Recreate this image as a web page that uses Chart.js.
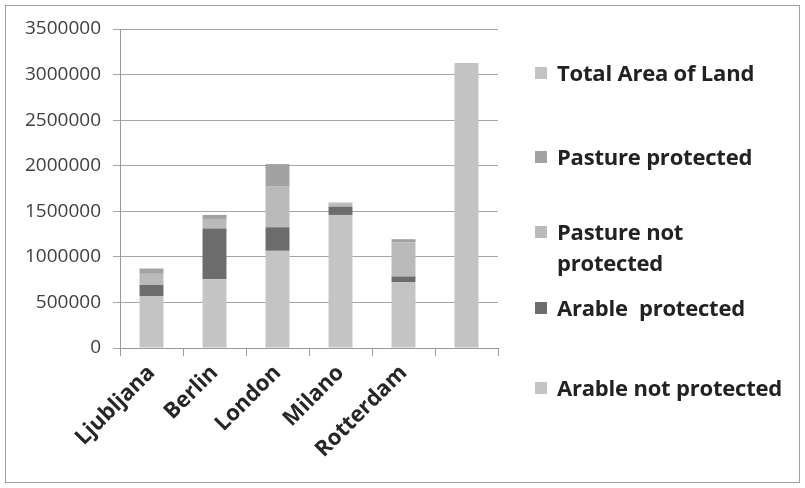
<!DOCTYPE html>
<html>
<head>
<meta charset="utf-8">
<script src="https://cdn.jsdelivr.net/npm/chart.js@4.4.0/dist/chart.umd.min.js"></script>
<style>
  html, body { margin: 0; padding: 0; background: #fff; }
  #wrap { position: relative; width: 805px; height: 488px; }
  #frame { position: absolute; left: 5px; top: 5px; width: 793px; height: 476px; border: 1px solid #a0a0a0; }
  canvas { position: absolute; left: 0; top: 0; }
  .leg { position: absolute; left: 535px; font: bold 22px "Open Sans", sans-serif; color: #222; line-height: 31px; letter-spacing: -0.2px; }
  .leg i { position: absolute; left: 0; top: 10px; width: 12px; height: 12px; }
  .leg span { display: block; margin-left: 22px; width: 260px; }
</style>
</head>
<body>
<div id="wrap">
  <div id="frame"></div>
  <canvas id="landChart" width="805" height="488"></canvas>
</div>
<script>
// values
const categories = ['Ljubljana', 'Berlin', 'London', 'Milano', 'Rotterdam', ''];
const arableNotProtected = [566000, 755000, 1066000, 1460000, 723000, null];
const arableProtected = [127000, 555000, 259000, 91000, 62000, null];
const pastureNotProtected = [121000, 106000, 445000, 33000, 376000, null];
const pastureProtected = [58000, 44000, 248000, 11000, 33000, null];
const totalArea = [null, null, null, null, null, 3128000];

const seriesColors = ['#c4c4c4', '#6c6c6c', '#bababa', '#a2a2a2', '#c3c3c3'];

const ctx = document.getElementById('landChart');
const chart = new Chart(ctx, {
    type: 'bar',
    data: {
        labels: categories,
        datasets: [
            { label: 'Arable not protected', data: arableNotProtected, backgroundColor: seriesColors[0] },
            { label: 'Arable  protected', data: arableProtected, backgroundColor: seriesColors[1] },
            { label: 'Pasture not protected', data: pastureNotProtected, backgroundColor: seriesColors[2] },
            { label: 'Pasture protected', data: pastureProtected, backgroundColor: seriesColors[3] },
            { label: 'Total Area of Land', data: totalArea, backgroundColor: seriesColors[4] }
        ]
    },
    options: {
        responsive: false,
        animation: false,
        layout: { padding: { top: 29, right: 307, left: 0, bottom: 0 } },
        datasets: { bar: { categoryPercentage: 1, barPercentage: 0.38 } },
        plugins: { legend: { display: false }, tooltip: { enabled: false } },
        scales: {
            x: {
                stacked: true,
                afterFit: s => { s.height = 140; },
                grid: { drawOnChartArea: false, color: '#999', tickLength: 8 },
                border: { color: '#999' },
                ticks: {
                    minRotation: 45, maxRotation: 45, padding: 4,
                    color: '#262626',
                    font: { family: '"Open Sans", sans-serif', size: 22, weight: 'bold' }
                }
            },
            y: {
                stacked: true,
                min: 0, max: 3500000,
                afterFit: s => { s.width = 120; },
                grid: { color: '#a6a6a6', tickLength: 7 },
                border: { color: '#999' },
                ticks: {
                    stepSize: 500000, padding: 12,
                    color: '#404040',
                    callback: v => String(v),
                    font: { family: '"Open Sans", sans-serif', size: 19 }
                }
            }
        }
    }
});

// legend on the right, in Excel's reversed order
const legendTops = [57, 141, 216, 292, 372];
const wrap = document.getElementById('wrap');
chart.data.datasets.slice().reverse().forEach((ds, i) => {
    const el = document.createElement('div');
    el.className = 'leg';
    el.style.top = legendTops[i] + 'px';
    const label = ds.label === 'Pasture not protected' ? 'Pasture not<br>protected' : ds.label.replace('  ', '&nbsp; ');
    el.innerHTML = '<i style="background:' + ds.backgroundColor + '"></i><span>' + label + '</span>';
    wrap.appendChild(el);
});
</script>
</body>
</html>
